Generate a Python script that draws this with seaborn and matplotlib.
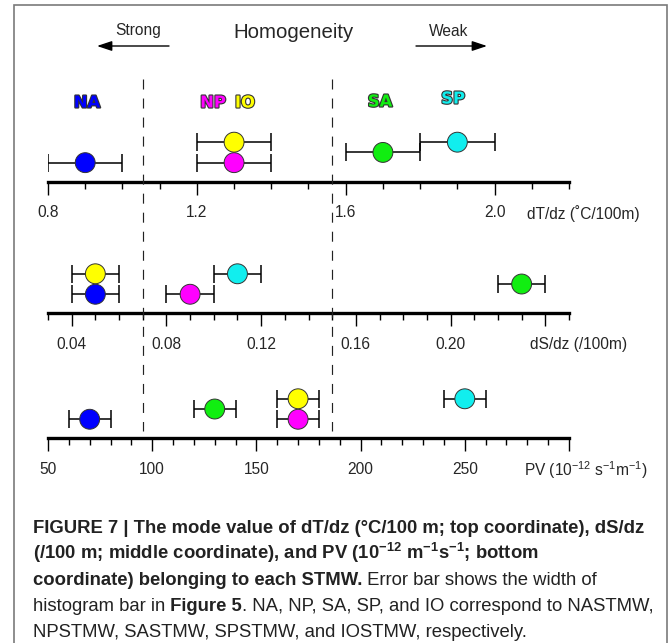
import matplotlib
matplotlib.use("Agg")
import numpy as np
import pandas as pd
import matplotlib.pyplot as plt
import matplotlib.transforms as mtransforms
import seaborn as sns
from matplotlib import patheffects as pe
from matplotlib.lines import Line2D
from matplotlib.patches import Rectangle, FancyArrowPatch
from matplotlib.ticker import MultipleLocator, FixedLocator, FixedFormatter

# ---- data -------------------------------------------------------------
regions = ["NA", "NP", "IO", "SA", "SP"]
region_colors = ["#0000ff", "#ff00ff", "#ffff00", "#11ee11", "#11eeee"]
# stacking row of each water mass inside a panel (0 = lowest)
rows = [0, 0, 1, 0.5, 1]

dTdz = [0.9, 1.3, 1.3, 1.7, 1.9]
dTdz_halfwidth = [0.1, 0.1, 0.1, 0.1, 0.1]
dSdz = [0.05, 0.09, 0.05, 0.23, 0.11]
dSdz_halfwidth = [0.01, 0.01, 0.01, 0.01, 0.01]
pv = [70, 170, 170, 130, 250]
pv_halfwidth = [10, 10, 10, 10, 10]

dTdz_ticks = [0.8, 1.2, 1.6, 2.0]
dTdz_ticklabels = ["0.8", "1.2", "1.6", "2.0"]
dSdz_ticks = [0.04, 0.08, 0.12, 0.16, 0.20, 0.24]
dSdz_ticklabels = ["0.04", "0.08", "0.12", "0.16", "0.20", ""]
pv_ticks = [50, 100, 150, 200, 250, 300]
pv_ticklabels = ["50", "100", "150", "200", "250", ""]

# homogeneity class boundaries, on the dS/dz scale
boundaries_dSdz = [0.07, 0.15]

# ---- style ------------------------------------------------------------
sns.set_theme(style="white")
plt.rcParams["font.family"] = ["Liberation Sans", "DejaVu Sans"]
plt.rcParams["mathtext.default"] = "regular"

W, H = 669, 643
fig = plt.figure(figsize=(W / 100, H / 100), dpi=100)
fig.patch.set_facecolor("white")


def fx(px):
    return px / W


def fy(py):
    return 1 - py / H


palette = dict(zip(regions, region_colors))


def panel(spine_y, values, halfwidth, xlim, major, labels, minor_step, title, title_x):
    ax = fig.add_axes([fx(48), fy(spine_y), fx(569) - fx(48), 60 / H])
    df = pd.DataFrame({"value": values, "row": rows, "region": regions})
    ax.errorbar(df["value"], df["row"], xerr=halfwidth, fmt="none",
                ecolor="black", elinewidth=1.1, capsize=6.2, capthick=1.1, zorder=2)
    sns.scatterplot(data=df, x="value", y="row", hue="region", palette=palette,
                    s=205, edgecolor="#333333", linewidth=0.7, legend=False,
                    ax=ax, zorder=3)
    ax.set_xlim(*xlim)
    ax.set_ylim(-0.93, 2.0)
    ax.set_facecolor("none")
    for side in ("top", "left", "right"):
        ax.spines[side].set_visible(False)
    ax.spines["bottom"].set_linewidth(2.4)
    ax.spines["bottom"].set_color("black")
    ax.set_yticks([])
    ax.set_xlabel("")
    ax.set_ylabel("")
    ax.xaxis.set_major_locator(FixedLocator(major))
    ax.xaxis.set_major_formatter(FixedFormatter(labels))
    ax.xaxis.set_minor_locator(MultipleLocator(minor_step))
    ax.tick_params(axis="x", which="major", direction="out", length=9.2,
                   width=1.0, color="black", labelsize=11.2, pad=7.6,
                   bottom=True)
    ax.tick_params(axis="x", which="minor", direction="out", length=4.8,
                   width=1.0, color="black", bottom=True)
    fig.text(fx(title_x), fy(spine_y + 31.5), title, fontsize=11.2,
             ha="left", va="center")
    return ax


ax_t = panel(181.7, dTdz, dTdz_halfwidth, (0.8, 2.2), dTdz_ticks,
             dTdz_ticklabels, 0.1, "dT/dz (\u02daC/100m)", 527)
ax_m = panel(313.3, dSdz, dSdz_halfwidth, (0.03, 0.25), dSdz_ticks,
             dSdz_ticklabels, 0.01, "dS/dz (/100m)", 530)
ax_b = panel(438.3, pv, pv_halfwidth, (50, 300), pv_ticks,
             pv_ticklabels, 10, r"PV (10$^{-12}$ s$^{-1}$m$^{-1}$)", 524)

# dashed class boundaries running through all three panels
blend = mtransforms.blended_transform_factory(ax_m.transData, fig.transFigure)
for b in boundaries_dSdz:
    ln = Line2D([b, b], [fy(79), fy(431)], transform=blend, color="#222222",
                lw=0.85, dashes=(7.2 / 0.85, 6.5 / 0.85))
    fig.add_artist(ln)

# header: homogeneity direction
fig.text(fx(138), fy(31), "Strong", fontsize=11.2, ha="center", va="center")
fig.text(fx(293.7), fy(32), "Homogeneity", fontsize=14.7, ha="center", va="center")
fig.text(fx(449), fy(32), "Weak", fontsize=11.2, ha="center", va="center")
for x0, x1 in [(169, 97), (416, 487)]:
    fig.add_artist(FancyArrowPatch((fx(x0), fy(46)), (fx(x1), fy(46)),
                                   transform=fig.transFigure,
                                   arrowstyle="-|>,head_length=0.9,head_width=0.3",
                                   mutation_scale=10, lw=1.0, color="black",
                                   shrinkA=0, shrinkB=0))

# water-mass names
name_pos = {"NA": (87, 103), "NP": (213, 103), "IO": (245, 103),
            "SA": (380, 102), "SP": (453, 99)}
for r, c in zip(regions, region_colors):
    px, py = name_pos[r]
    fig.text(fx(px), fy(py), r, color=c, fontsize=11.8, fontweight="bold",
             family=["DejaVu Sans"], ha="center", va="center",
             path_effects=[pe.withStroke(linewidth=1.6, foreground="#333333")])

# outer frame
fig.add_artist(Rectangle((fx(14), -0.05), fx(667) - fx(14), fy(5) + 0.05,
                         transform=fig.transFigure, fill=False,
                         edgecolor="#7a7a7a", lw=1.2))

# caption
cap_fs = 13.3
renderer = fig.canvas.get_renderer()


def caption_line(y, pieces):
    x = fx(33)
    for txt, weight in pieces:
        t = fig.text(x, fy(y), txt, fontsize=cap_fs, fontweight=weight,
                     ha="left", va="baseline", color="#222222")
        bb = t.get_window_extent(renderer)
        x = fig.transFigure.inverted().transform((bb.x1, 0))[0]


caption_line(533, [("FIGURE 7 | The mode value of dT/dz (\u00b0C/100 m; top coordinate), dS/dz", "bold")])
caption_line(559, [(r"(/100 m; middle coordinate), and PV (10$^{-12}$ m$^{-1}$s$^{-1}$; bottom", "bold")])
caption_line(585, [("coordinate) belonging to each STMW.", "bold"),
                   (" Error bar shows the width of", "normal")])
caption_line(611, [("histogram bar in", "normal"), (" Figure 5", "bold"),
                   (". NA, NP, SA, SP, and IO correspond to NASTMW,", "normal")])
caption_line(637, [("NPSTMW, SASTMW, SPSTMW, and IOSTMW, respectively.", "normal")])

fig.savefig("out.png", dpi=100, facecolor="white")
